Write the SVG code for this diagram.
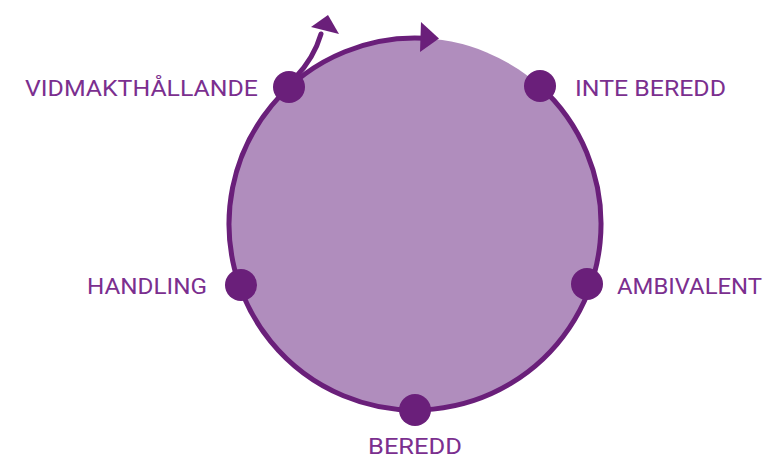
<svg xmlns="http://www.w3.org/2000/svg" width="763" height="460" viewBox="0 0 763 460">
<style>
.lbl{font-family:Roboto,"Liberation Sans",sans-serif;font-weight:400;font-size:22px;fill:#7b2f8f}
.dot{fill:#6a1f7a}
.ln{fill:none;stroke:#6a1f7a;stroke-width:5;stroke-linecap:round}
.head{fill:#6a1f7a}
</style>
<rect width="763" height="460" fill="#ffffff"/>
<circle id="cycle" cx="415" cy="224" r="186" fill="#b08dbd"/>
<g id="connectors">
<path class="ln" d="M 539.9 86.2 A 186 186 0 1 1 425 38.3"/>
<polygon class="head" points="421,22 439,38.5 420,52"/>
<path class="ln" d="M 295 78 Q 314 58 321 34"/>
<polygon class="head" points="311,27 328,15 339,34"/>
</g>
<g id="inte-beredd"><circle class="dot" cx="540" cy="86" r="16"/><text class="lbl" x="575" y="96" textLength="151" lengthAdjust="spacingAndGlyphs">INTE BEREDD</text></g>
<g id="ambivalent"><circle class="dot" cx="587" cy="284" r="16"/><text class="lbl" x="617" y="294" textLength="145" lengthAdjust="spacingAndGlyphs">AMBIVALENT</text></g>
<g id="beredd"><circle class="dot" cx="415" cy="410" r="16"/><text class="lbl" x="368" y="454" textLength="94" lengthAdjust="spacingAndGlyphs">BEREDD</text></g>
<g id="handling"><circle class="dot" cx="241" cy="285" r="16"/><text class="lbl" x="87" y="294" textLength="120" lengthAdjust="spacingAndGlyphs">HANDLING</text></g>
<g id="vidmakthallande"><circle class="dot" cx="289" cy="87" r="16"/><text class="lbl" x="25" y="96" textLength="233" lengthAdjust="spacingAndGlyphs">VIDMAKTHÅLLANDE</text></g>
</svg>
